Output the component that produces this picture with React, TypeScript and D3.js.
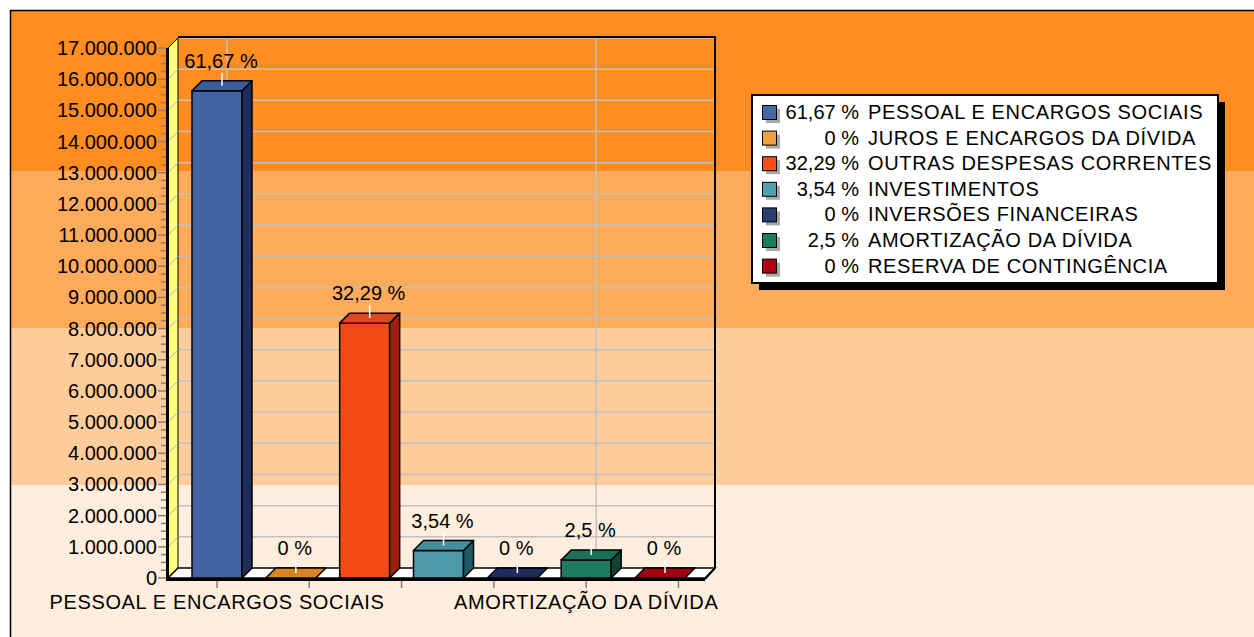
import { useEffect, useRef } from "react";
import * as d3 from "d3";

const CATEGORIES = [
  "PESSOAL E ENCARGOS SOCIAIS",
  "JUROS E ENCARGOS DA DÍVIDA",
  "OUTRAS DESPESAS CORRENTES",
  "INVESTIMENTOS",
  "INVERSÕES FINANCEIRAS",
  "AMORTIZAÇÃO DA DÍVIDA",
  "RESERVA DE CONTINGÊNCIA",
];
const VALUES = [15630000, 0, 8175000, 880000, 0, 580000, 0];
const PERCENT_LABELS = ["61,67 %", "0 %", "32,29 %", "3,54 %", "0 %", "2,5 %", "0 %"];
// frente / topo / lateral / quadradinho da legenda
const FRONT_COLORS = ["#4262A4", "#DA8420", "#F24A16", "#4D9AAA", "#1E2D5E", "#1F7A62", "#A00010"];
const TOP_COLORS = ["#3D5C9C", "#DA8420", "#E2461A", "#43909F", "#1E2D5E", "#1C7058", "#A00010"];
const SIDE_COLORS = ["#1E2D5C", "#8A5010", "#A31E0C", "#1F5A66", "#101A3A", "#0E4534", "#600008"];
const SWATCH_COLORS = ["#4466AA", "#F0A040", "#F25018", "#50A0B0", "#2A3D70", "#1F7A62", "#B00010"];
const Y_MAX = 17000000;
const Y_TICKS = d3.range(0, Y_MAX + 1, 1000000);
const Y_MINOR = d3.range(0, Y_MAX + 1, 250000);
const X_TICKS = [0, 1.25, 2.5, 3.75, 5, 6.25];
const X_LABELED = [0, 5];
const BANDS = ["#FF8D20", "#FFAB5C", "#FFCD9B", "#FFEEDE"];

const W = 1254;
const H = 637;
const DX = 10;
const DY = -10;
const BAR_W = 50;
const AXIS_X = 168;
const FLOOR_RIGHT = 705;
const FONT = "'Liberation Sans', Arial, sans-serif";
const CAT_SPACING = 0.65;

const fmt = d3.formatLocale({ decimal: ",", thousands: ".", grouping: [3], currency: ["R$", ""] }).format(",d");

function draw(svgEl: SVGSVGElement) {
  const svg = d3.select(svgEl);
  svg.selectAll("*").remove();

  const x = d3.scaleLinear().domain([0, 6]).range([217, 660]);
  const y = d3.scaleLinear().domain([0, Y_MAX]).range([578, 48]);
  const y0 = y(0);

  // fundo em faixas
  const bandY = d3.scaleLinear().domain([0, 4]).range([14, 642]);
  svg.append("rect").attr("width", W).attr("height", H).attr("fill", "white");
  BANDS.forEach((c, i) => {
    const top = i === 0 ? 10 : bandY(i);
    svg.append("rect")
      .attr("x", 10).attr("y", top)
      .attr("width", W).attr("height", bandY(i + 1) - top)
      .attr("fill", c);
  });
  svg.append("path")
    .attr("d", `M10.5,${H} L10.5,10.5 L${W},10.5`)
    .attr("fill", "none").attr("stroke", "black").attr("stroke-width", 1.5);

  const g = svg.append("g");
  const backL = AXIS_X + DX;
  const backR = FLOOR_RIGHT + DX;

  // grade da parede de fundo
  Y_TICKS.filter((v) => v > 0).forEach((v) => {
    g.append("line")
      .attr("x1", backL).attr("x2", backR)
      .attr("y1", y(v) + DY).attr("y2", y(v) + DY)
      .attr("stroke", "#C0C0C0").attr("stroke-width", 1.5);
  });
  X_LABELED.forEach((i) => {
    g.append("line")
      .attr("x1", x(i) + DX).attr("x2", x(i) + DX)
      .attr("y1", y(Y_MAX) + DY).attr("y2", y0 + DY)
      .attr("stroke", "#C0C0C0").attr("stroke-width", 1.5);
  });
  // contorno da parede de fundo
  g.append("path")
    .attr("d", `M${backL},${y(Y_MAX) + DY - 1} L${backR},${y(Y_MAX) + DY - 1} L${backR},${y0 + DY}`)
    .attr("fill", "none").attr("stroke", "black").attr("stroke-width", 2);

  // parede lateral amarela
  g.append("polygon")
    .attr("points", [[AXIS_X, y(Y_MAX)], [backL, y(Y_MAX) + DY], [backL, y0 + DY], [AXIS_X, y0]].join(" "))
    .attr("fill", "#FFFF80").attr("stroke", "black").attr("stroke-width", 1);
  Y_TICKS.filter((v) => v > 0 && v < Y_MAX).forEach((v) => {
    g.append("line")
      .attr("x1", AXIS_X).attr("x2", backL)
      .attr("y1", y(v)).attr("y2", y(v) + DY)
      .attr("stroke", "#B0B0B0").attr("stroke-width", 1);
  });

  // piso
  g.append("polygon")
    .attr("points", [[AXIS_X, y0], [FLOOR_RIGHT, y0], [backR, y0 + DY], [backL, y0 + DY]].join(" "))
    .attr("fill", "white").attr("stroke", "black").attr("stroke-width", 1.5);

  // barras 3D
  VALUES.forEach((v, i) => {
    const cx = x(i);
    const x0 = cx - BAR_W / 2;
    const x1 = cx + BAR_W / 2;
    const yt = y(v);
    if (v > 0) {
      g.append("rect")
        .attr("x", x0).attr("y", yt)
        .attr("width", BAR_W).attr("height", y0 - yt)
        .attr("fill", FRONT_COLORS[i]).attr("stroke", "black").attr("stroke-width", 1.5);
      g.append("polygon")
        .attr("points", [[x1, yt], [x1 + DX, yt + DY], [x1 + DX, y0 + DY], [x1, y0]].join(" "))
        .attr("fill", SIDE_COLORS[i]).attr("stroke", "black").attr("stroke-width", 1.5)
        .attr("stroke-linejoin", "round");
    }
    g.append("polygon")
      .attr("points", [[x0, yt], [x1, yt], [x1 + DX, yt + DY], [x0 + DX, yt + DY]].join(" "))
      .attr("fill", TOP_COLORS[i]).attr("stroke", "black").attr("stroke-width", 1.5)
      .attr("stroke-linejoin", "round");

    // marcador e rótulo
    const lx = cx + DX / 2;
    const ly = yt + DY / 2;
    g.append("line")
      .attr("x1", lx).attr("x2", lx)
      .attr("y1", ly).attr("y2", ly - 13)
      .attr("stroke", "white").attr("stroke-width", 1.5);
    g.append("text")
      .attr("x", lx - 1).attr("y", yt - 23)
      .attr("text-anchor", "middle")
      .attr("font-family", FONT).attr("font-size", 20).attr("fill", "black")
      .text(PERCENT_LABELS[i]);
  });

  // linha frontal do piso e eixo Y
  g.append("line")
    .attr("x1", AXIS_X).attr("x2", FLOOR_RIGHT)
    .attr("y1", y0 + 1.5).attr("y2", y0 + 1.5)
    .attr("stroke", "black").attr("stroke-width", 3);
  g.append("line")
    .attr("x1", FLOOR_RIGHT).attr("x2", backR)
    .attr("y1", y0 + 1).attr("y2", y0 + DY)
    .attr("stroke", "black").attr("stroke-width", 2);
  g.append("line")
    .attr("x1", AXIS_X - 0.5).attr("x2", AXIS_X - 0.5)
    .attr("y1", y(Y_MAX)).attr("y2", y0 + 3)
    .attr("stroke", "black").attr("stroke-width", 3);

  // marcas do eixo Y
  Y_MINOR.forEach((v) => {
    const major = v % 1000000 === 0;
    g.append("line")
      .attr("x1", major ? AXIS_X - 10 : AXIS_X - 7).attr("x2", AXIS_X - 2)
      .attr("y1", y(v)).attr("y2", y(v))
      .attr("stroke", "#808080").attr("stroke-width", 1.5);
  });
  Y_TICKS.forEach((v) => {
    g.append("text")
      .attr("x", 157).attr("y", y(v) + 7)
      .attr("text-anchor", "end")
      .attr("font-family", FONT).attr("font-size", 20).attr("fill", "black")
      .text(fmt(v));
  });

  // marcas e rótulos do eixo X
  X_TICKS.forEach((t) => {
    g.append("line")
      .attr("x1", x(t)).attr("x2", x(t))
      .attr("y1", y0 + 3).attr("y2", y0 + 10)
      .attr("stroke", "#808080").attr("stroke-width", 1.5);
  });
  X_LABELED.forEach((i) => {
    g.append("text")
      .attr("x", x(i)).attr("y", 609)
      .attr("text-anchor", "middle")
      .attr("letter-spacing", CAT_SPACING)
      .attr("font-family", FONT).attr("font-size", 20).attr("fill", "black")
      .text(CATEGORIES[i]);
  });

  // legenda
  const lg = svg.append("g").attr("transform", "translate(752,95)");
  lg.append("rect").attr("x", 7).attr("y", 7).attr("width", 466).attr("height", 188).attr("fill", "black");
  lg.append("rect").attr("x", 0).attr("y", 0).attr("width", 466).attr("height", 188)
    .attr("fill", "white").attr("stroke", "black").attr("stroke-width", 2);
  CATEGORIES.forEach((name, i) => {
    const ry = 10 + i * 25.6;
    lg.append("rect").attr("x", 14).attr("y", ry + 4).attr("width", 14).attr("height", 14).attr("fill", "#A8A8A8");
    lg.append("rect").attr("x", 10.5).attr("y", ry + 0.5).attr("width", 14).attr("height", 14)
      .attr("fill", SWATCH_COLORS[i]).attr("stroke", "black").attr("stroke-width", 1);
    lg.append("text")
      .attr("x", 107).attr("y", ry + 14)
      .attr("text-anchor", "end")
      .attr("font-family", FONT).attr("font-size", 20).attr("fill", "black")
      .text(PERCENT_LABELS[i]);
    lg.append("text")
      .attr("x", 116).attr("y", ry + 14)
      .attr("letter-spacing", CAT_SPACING)
      .attr("font-family", FONT).attr("font-size", 20).attr("fill", "black")
      .text(name);
  });
}

export default function App() {
  const ref = useRef<SVGSVGElement>(null);
  useEffect(() => {
    if (ref.current) draw(ref.current);
  }, []);
  return (
    <svg
      ref={ref}
      width={W}
      height={H}
      style={{ position: "absolute", left: 0, top: 0, display: "block" }}
    />
  );
}
